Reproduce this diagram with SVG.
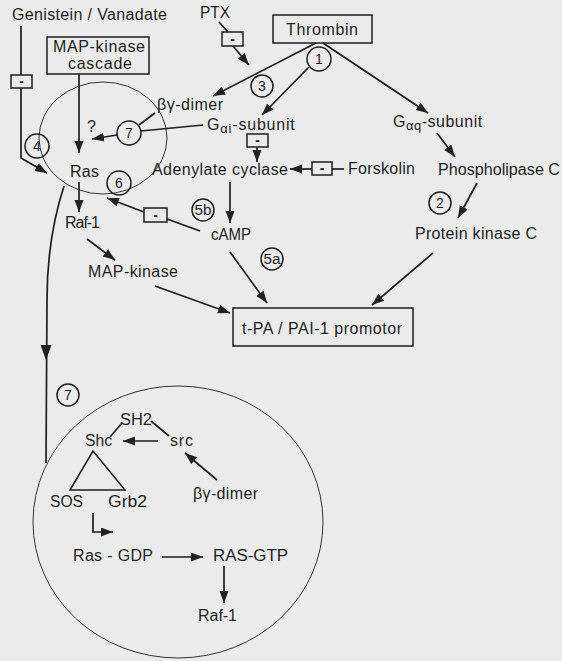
<svg xmlns="http://www.w3.org/2000/svg" width="562" height="661" viewBox="0 0 562 661">
<defs>
<marker id="ah" markerUnits="userSpaceOnUse" markerWidth="13" markerHeight="10" refX="12" refY="4.5" orient="auto">
<path d="M0,0 L12,4.5 L0,9 z" fill="#222"/>
</marker>
<style>
text{font-family:"Liberation Sans",Arial,sans-serif;font-size:16px;fill:#1e1e1e}
.n{font-size:14px;text-anchor:middle}
.c{fill:none;stroke:#1e1e1e;stroke-width:1.5}
.b{fill:none;stroke:#1e1e1e;stroke-width:1.5}
.e{fill:none;stroke:#333;stroke-width:1}
.l{fill:none;stroke:#1e1e1e;stroke-width:1.7}
.a{fill:none;stroke:#1e1e1e;stroke-width:1.7;marker-end:url(#ah)}
.m{font-size:14px;text-anchor:middle;font-weight:bold}
</style>
</defs>
<rect width="562" height="661" fill="#ebebeb"/>

<g id="regions">
<ellipse cx="103" cy="138" rx="64" ry="56" class="e"/>
<ellipse cx="178" cy="522" rx="145" ry="136" class="e"/>
</g>

<g id="connectors">
<line x1="316" y1="43" x2="213" y2="96" class="a"/>
<line x1="309" y1="67" x2="262" y2="115" class="a"/>
<line x1="323" y1="43" x2="428" y2="113" class="a"/>
<line x1="219" y1="22" x2="228" y2="32" class="l"/>
<line x1="233" y1="46" x2="249" y2="65" class="a"/>
<polyline points="21,26 21,75" class="l"/>
<polyline points="21,88 21,158 47,173" class="a"/>
<line x1="79" y1="74" x2="79" y2="153" class="a"/>
<line x1="155" y1="113" x2="139" y2="125" class="l"/>
<line x1="203" y1="125" x2="141" y2="131" class="l"/>
<line x1="117" y1="135" x2="92" y2="139" class="a"/>
<line x1="257" y1="147" x2="257" y2="162" class="a"/>
<line x1="344" y1="169" x2="332" y2="169" class="l"/>
<line x1="312" y1="169" x2="290" y2="169" class="a"/>
<line x1="230" y1="182" x2="230" y2="223" class="a"/>
<line x1="437" y1="133" x2="455" y2="157" class="a"/>
<line x1="477" y1="183" x2="458" y2="218" class="a"/>
<line x1="433" y1="253" x2="372" y2="305" class="a"/>
<line x1="230" y1="252" x2="267" y2="303" class="a"/>
<line x1="155" y1="286" x2="230" y2="313" class="a"/>
<line x1="200" y1="231" x2="167" y2="219" class="l"/>
<line x1="144" y1="212" x2="107" y2="198" class="a"/>
<line x1="79" y1="182" x2="79" y2="212" class="a"/>
<line x1="87" y1="239" x2="115" y2="260" class="a"/>
<path d="M64,186 C53,220 47,260 47,300 L46,463" class="l"/>
<path d="M40.5,345 L51.5,345 L46,360 z" fill="#1e1e1e"/>
<line x1="110" y1="437" x2="122" y2="423" class="l"/>
<line x1="151" y1="421" x2="169" y2="436" class="l"/>
<line x1="158" y1="441" x2="123" y2="441" class="a"/>
<line x1="217" y1="480" x2="185" y2="453" class="a"/>
<polygon points="93,451 70,490 125,490" class="b"/>
<polyline points="93,513 93,532 113,532" class="a"/>
<line x1="162" y1="557" x2="203" y2="557" class="a"/>
<line x1="224" y1="566" x2="224" y2="603" class="a"/>
</g>

<g id="inhibitors">
<rect x="222" y="32" width="21" height="14" class="b"/><text x="232.5" y="44" class="m">-</text>
<rect x="11" y="75" width="21" height="13" class="b"/><text x="21.5" y="86" class="m">-</text>
<rect x="247" y="134" width="21" height="13" class="b"/><text x="257.5" y="145" class="m">-</text>
<rect x="312" y="162" width="20" height="13" class="b"/><text x="322" y="173" class="m">-</text>
<rect x="144" y="208" width="23" height="14" class="b"/><text x="155.5" y="220" class="m">-</text>
</g>

<g id="genistein"><text x="12" y="20" textLength="155" lengthAdjust="spacing">Genistein / Vanadate</text></g>
<g id="ptx"><text x="200" y="18" textLength="30" lengthAdjust="spacingAndGlyphs">PTX</text></g>
<g id="thrombin"><rect x="273" y="15" width="99" height="28" class="b"/><text x="286" y="35" textLength="72" lengthAdjust="spacing">Thrombin</text></g>
<g id="mapk-cascade"><rect x="47" y="37" width="102" height="37" class="b"/><text x="53" y="52" textLength="92" lengthAdjust="spacing">MAP-kinase</text><text x="68" y="69" textLength="64" lengthAdjust="spacing">cascade</text></g>
<g id="bg-dimer"><text x="157" y="110" textLength="66" lengthAdjust="spacing">βγ-dimer</text></g>
<g id="gai"><text x="207" y="130" letter-spacing="0.8">G<tspan font-size="13" dy="3">αi</tspan><tspan dy="-3">-subunit</tspan></text></g>
<g id="gaq"><text x="393" y="127" letter-spacing="0.5">G<tspan font-size="13" dy="3">αq</tspan><tspan dy="-3">-subunit</tspan></text></g>
<g id="adenylate"><text x="152" y="175" textLength="136" lengthAdjust="spacing">Adenylate cyclase</text></g>
<g id="forskolin"><text x="348" y="174" textLength="67" lengthAdjust="spacing">Forskolin</text></g>
<g id="plc"><text x="438" y="175" textLength="122" lengthAdjust="spacingAndGlyphs">Phospholipase C</text></g>
<g id="pkc"><text x="415" y="239" textLength="122" lengthAdjust="spacing">Protein kinase C</text></g>
<g id="ras"><text x="70" y="177" textLength="29" lengthAdjust="spacing">Ras</text><text x="87" y="132">?</text></g>
<g id="raf1"><text x="65" y="228" textLength="35" lengthAdjust="spacing">Raf-1</text></g>
<g id="mapk"><text x="88" y="277" textLength="90" lengthAdjust="spacing">MAP-kinase</text></g>
<g id="camp"><text x="211" y="240" textLength="40" lengthAdjust="spacingAndGlyphs">cAMP</text></g>
<g id="promotor"><rect x="233" y="308" width="180" height="38" class="b"/><text x="242" y="334" textLength="160" lengthAdjust="spacing">t-PA / PAI-1 promotor</text></g>

<g id="numbers">
<circle cx="319" cy="59" r="12" class="c"/><text x="319" y="64" class="n">1</text>
<circle cx="262" cy="86" r="11" class="c"/><text x="262" y="91" class="n">3</text>
<circle cx="37" cy="146" r="12" class="c"/><text x="37" y="151" class="n">4</text>
<circle cx="129" cy="133" r="12" class="c"/><text x="129" y="138" class="n">7</text>
<circle cx="119" cy="183" r="12" class="c"/><text x="119" y="188" class="n">6</text>
<circle cx="203" cy="210" r="11" class="c"/><text x="203" y="215" class="n" textLength="17" lengthAdjust="spacingAndGlyphs">5b</text>
<circle cx="272" cy="259" r="11" class="c"/><text x="272" y="264" class="n" textLength="17" lengthAdjust="spacingAndGlyphs">5a</text>
<circle cx="440" cy="203" r="11" class="c"/><text x="440" y="208" class="n">2</text>
<circle cx="68" cy="395" r="11" class="c"/><text x="68" y="400" class="n">7</text>
</g>

<g id="sh2"><text x="120" y="425" textLength="32" lengthAdjust="spacingAndGlyphs">SH2</text></g>
<g id="shc"><text x="85" y="446" textLength="27" lengthAdjust="spacingAndGlyphs">Shc</text></g>
<g id="src"><text x="170" y="446" textLength="23" lengthAdjust="spacing">src</text></g>
<g id="sos"><text x="50" y="507" textLength="33" lengthAdjust="spacingAndGlyphs">SOS</text></g>
<g id="grb2"><text x="108" y="507" textLength="39" lengthAdjust="spacingAndGlyphs">Grb2</text></g>
<g id="bg-dimer2"><text x="193" y="499" textLength="65" lengthAdjust="spacing">βγ-dimer</text></g>
<g id="ras-gdp"><text x="73" y="561" textLength="80" lengthAdjust="spacing">Ras - GDP</text></g>
<g id="ras-gtp"><text x="213" y="561" textLength="75" lengthAdjust="spacingAndGlyphs">RAS-GTP</text></g>
<g id="raf1b"><text x="198" y="621" textLength="39" lengthAdjust="spacing">Raf-1</text></g>
</svg>
